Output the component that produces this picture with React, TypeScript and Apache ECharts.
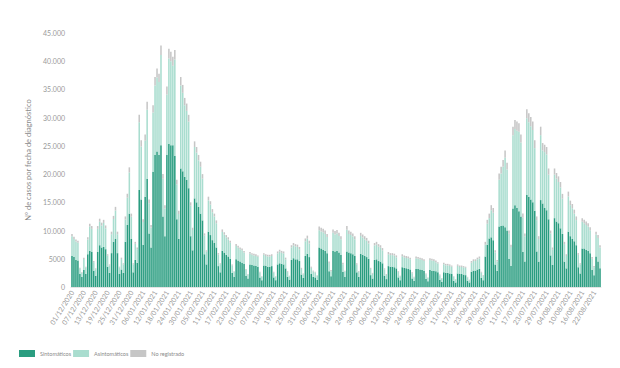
import React, { useEffect, useRef } from "react";
import * as echarts from "echarts";

// Period: 01/12/2020 .. 25/08/2021 (one bar per day)
const startDate = { y: 2020, m: 12, d: 1 };
const dayCount = 268;

const seriesNames = ["Sintomáticos", "Asintomáticos", "No registrado"];
const seriesColors = ["#2a9d80", "#a9ddcf", "#c6c6c6"];

const sintomaticos = [
  5500, 5300, 4800, 4700, 2300, 1800,
  3000, 2300, 5800, 6400, 6200, 2900, 2000,
  6200, 7400, 7000, 7100, 6700, 3600, 2500,
  6000, 8000, 8500, 6000, 2300, 3100, 2500,
  8000, 11000, 13000, 8500, 2600, 4800, 4300,
  17200, 15500, 7500, 16000, 19200, 9500, 7000,
  20400, 23400, 24000, 23400, 25100, 12500, 9000,
  23400, 25400, 25100, 25100, 23200, 12000, 8500,
  21000, 20500, 19500, 19000, 17500, 9000, 6500,
  15700, 15000, 14200, 13000, 11800, 5800, 4000,
  9800, 9200, 8300, 7800, 7000, 3700, 2600,
  6400, 6100, 5700, 5400, 5000, 2500, 1800,
  4900, 4700, 4500, 4300, 4100, 2000, 1500,
  4000, 3900, 3800, 3700, 3600, 1700, 1200,
  3800, 3700, 3600, 3600, 3700, 1700, 1200,
  4000, 4200, 4100, 4000, 3300, 1800, 1300,
  4800, 5100, 4900, 4900, 4600, 2200, 1600,
  5500, 5900, 5300, 2300, 1800, 1700, 1300,
  7000, 6800, 6600, 6400, 6000, 2800, 1900,
  6400, 6300, 6400, 6100, 5700, 2700, 1800,
  6300, 6100, 6000, 5800, 5500, 2600, 1800,
  5900, 5700, 5500, 5300, 5000, 2100, 1500,
  4800, 4900, 4600, 4500, 4200, 2000, 1400,
  3700, 3600, 3600, 3500, 3300, 1700, 1200,
  3500, 3400, 3300, 3200, 3100, 1500, 1100,
  3200, 3200, 3100, 3000, 2900, 1400, 1000,
  3000, 2900, 2900, 2800, 2600, 1300, 900,
  2600, 2500, 2500, 2400, 2300, 1100, 800,
  2400, 2300, 2300, 2200, 2100, 1100, 800,
  2700, 2900, 2900, 3100, 3200, 1600, 1200,
  5400, 7500, 8600, 8800, 8300, 4000, 2900,
  10700, 10800, 10900, 10600, 10000, 5000, 3700,
  13900, 14500, 14000, 13400, 12500, 6200, 4500,
  16300, 16000, 15500, 15000, 13500, 6300, 4500,
  15400, 14800, 14000, 13600, 12000, 5600, 3900,
  12200, 11600, 11300, 10400, 9400, 4500, 3300,
  9800, 9000, 8500, 8100, 7400, 3500, 2400,
  6800, 6800, 6600, 6400, 6000, 3000, 2100,
  5400, 4500, 3300,
];

const asintomaticos = [
  3500, 3200, 3250, 3150, 950, 700,
  1950, 1150, 2600, 4300, 4100, 1500, 1150,
  4100, 4150, 3900, 4250, 3700, 1950, 1300,
  3350, 4050, 5050, 3350, 1150, 1850, 1500,
  3950, 4800, 7300, 3950, 1400, 2850, 2400,
  12000, 9400, 4000, 9900, 12200, 5350, 3550,
  10500, 12300, 13100, 12900, 16000, 6700, 4900,
  10700, 15100, 14900, 14100, 17100, 6200, 4450,
  14700, 13900, 12700, 12200, 11800, 5400, 3600,
  9100, 8800, 8250, 8300, 7400, 3300, 2250,
  5550, 5400, 4950, 4700, 4300, 2050, 1450,
  3350, 3200, 3100, 3000, 2850, 1300, 900,
  2350, 2250, 2200, 2200, 2000, 1050, 700,
  1900, 1800, 1800, 1800, 1750, 850, 600,
  1900, 1800, 1800, 1800, 1800, 850, 600,
  1950, 2050, 1950, 1950, 1600, 850, 600,
  2200, 2250, 2300, 2200, 2100, 1000, 650,
  2600, 2650, 2400, 1100, 950, 850, 700,
  3050, 3050, 3100, 3000, 2850, 1450, 900,
  3200, 3000, 3100, 2950, 2750, 1350, 950,
  3850, 3300, 3200, 3150, 2950, 1350, 850,
  3150, 3050, 2950, 2900, 2700, 1100, 850,
  2550, 2600, 2550, 2450, 2300, 1100, 750,
  2100, 2050, 2050, 2050, 1950, 950, 700,
  1950, 1850, 1850, 1900, 1800, 950, 600,
  1900, 1800, 1800, 1800, 1700, 850, 600,
  1800, 1800, 1700, 1600, 1550, 750, 600,
  1450, 1350, 1350, 1350, 1300, 700, 500,
  1350, 1250, 1250, 1300, 1300, 600, 400,
  1600, 1700, 1700, 1800, 1850, 950, 750,
  2100, 3700, 3600, 4800, 4850, 2100, 1600,
  8300, 9300, 10400, 12300, 10800, 4450, 3400,
  13000, 13500, 13700, 14100, 13100, 6100, 4500,
  13600, 13200, 13000, 12800, 11100, 5550, 4000,
  11500, 9400, 9900, 9900, 7900, 3900, 2700,
  7700, 7600, 7300, 7250, 6250, 3100, 2200,
  6250, 5500, 5450, 4900, 4450, 2200, 1600,
  4750, 4500, 4400, 4300, 4050, 2000, 1400,
  3900, 4200, 3700,
];

const noRegistrado = [
  400, 400, 350, 350, 150, 100,
  250, 150, 400, 500, 500, 200, 150,
  500, 550, 500, 550, 500, 250, 200,
  450, 550, 650, 450, 150, 250, 200,
  550, 700, 900, 550, 200, 350, 300,
  1300, 1100, 500, 1100, 1400, 650, 450,
  1300, 1500, 1600, 1500, 1700, 800, 600,
  1400, 1700, 1700, 1600, 1700, 800, 550,
  1500, 1400, 1300, 1300, 1200, 600, 400,
  1000, 1000, 950, 900, 800, 400, 250,
  650, 600, 550, 500, 500, 250, 150,
  450, 400, 400, 400, 350, 200, 100,
  350, 350, 300, 300, 300, 150, 100,
  300, 300, 300, 300, 250, 150, 100,
  300, 300, 300, 300, 300, 150, 100,
  350, 350, 350, 350, 300, 150, 100,
  400, 450, 400, 400, 400, 200, 150,
  500, 550, 500, 200, 150, 150, 100,
  650, 650, 600, 600, 550, 250, 200,
  600, 600, 600, 550, 550, 250, 150,
  650, 600, 600, 550, 550, 250, 150,
  550, 550, 550, 500, 500, 200, 150,
  450, 500, 450, 450, 400, 200, 150,
  400, 350, 350, 350, 350, 150, 100,
  350, 350, 350, 300, 300, 150, 100,
  300, 300, 300, 300, 300, 150, 100,
  300, 300, 300, 300, 250, 150, 100,
  250, 250, 250, 250, 200, 100, 100,
  250, 250, 250, 200, 200, 100, 100,
  300, 300, 300, 300, 350, 150, 150,
  500, 700, 800, 900, 850, 400, 300,
  1100, 1200, 1200, 1300, 1200, 550, 400,
  1500, 1600, 1600, 1500, 1400, 700, 500,
  1600, 1600, 1600, 1500, 1400, 650, 500,
  1500, 1300, 1300, 1300, 1100, 500, 400,
  1100, 1000, 1000, 950, 850, 400, 300,
  850, 800, 750, 700, 650, 300, 200,
  650, 600, 600, 600, 550, 300, 200,
  500, 500, 400,
];

const yTicks = { min: 0, max: 45000, interval: 5000 };
const yAxisTitle = "Nº de casos por fecha de diagnóstico";

function buildDates(): string[] {
  const out: string[] = [];
  const base = new Date(Date.UTC(startDate.y, startDate.m - 1, startDate.d));
  for (let i = 0; i < dayCount; i++) {
    const d = new Date(base.getTime() + i * 86400000);
    const dd = String(d.getUTCDate()).padStart(2, "0");
    const mm = String(d.getUTCMonth() + 1).padStart(2, "0");
    out.push(`${dd}/${mm}/${d.getUTCFullYear()}`);
  }
  return out;
}

function fmtY(v: number): string {
  if (v < 10000) return String(v);
  return String(v).replace(/\B(?=(\d{3})+(?!\d))/g, ".");
}

export default function App() {
  const ref = useRef<HTMLDivElement>(null);
  useEffect(() => {
    if (!ref.current) return;
    const chart = echarts.init(ref.current, undefined, { renderer: "svg" });
    const dates = buildDates();
    const font = "Lato, 'Open Sans', sans-serif";
    const data = [sintomaticos, asintomaticos, noRegistrado];
    chart.setOption({
      animation: false,
      textStyle: { fontFamily: font },
      grid: { left: 71, right: 19, top: 33, bottom: 81, containLabel: false },
      legend: {
        left: 14,
        top: 345,
        itemWidth: 16,
        itemHeight: 7,
        itemGap: 2,
        icon: "rect",
        textStyle: { fontSize: 5.5, color: "#8a8a8a", fontFamily: font },
        data: seriesNames,
      },
      xAxis: {
        type: "category",
        data: dates,
        axisTick: { show: false },
        axisLine: { show: true, lineStyle: { color: "#e4e4e4" } },
        axisLabel: {
          interval: 5,
          rotate: 58,
          fontSize: 7,
          color: "#9a9a9a",
          margin: 4,
          fontFamily: font,
        },
      },
      yAxis: {
        type: "value",
        min: yTicks.min,
        max: yTicks.max,
        interval: yTicks.interval,
        name: yAxisTitle,
        nameLocation: "middle",
        nameRotate: 90,
        nameGap: 34,
        nameTextStyle: { fontSize: 7.5, color: "#8a8a8a", fontFamily: font },
        axisLine: { show: false },
        axisTick: { show: false },
        splitLine: { show: false },
        axisLabel: {
          fontSize: 7,
          color: "#9a9a9a",
          margin: 6,
          fontFamily: font,
          formatter: (v: number) => fmtY(v),
        },
      },
      series: seriesNames.map((name, k) => ({
        name,
        type: "bar",
        stack: "total",
        barCategoryGap: "22%",
        itemStyle: { color: seriesColors[k] },
        data: data[k],
      })),
    });
    return () => chart.dispose();
  }, []);
  return (
    <div
      ref={ref}
      style={{ position: "absolute", left: 0, top: 0, width: 620, height: 368, background: "#fff" }}
    />
  );
}
